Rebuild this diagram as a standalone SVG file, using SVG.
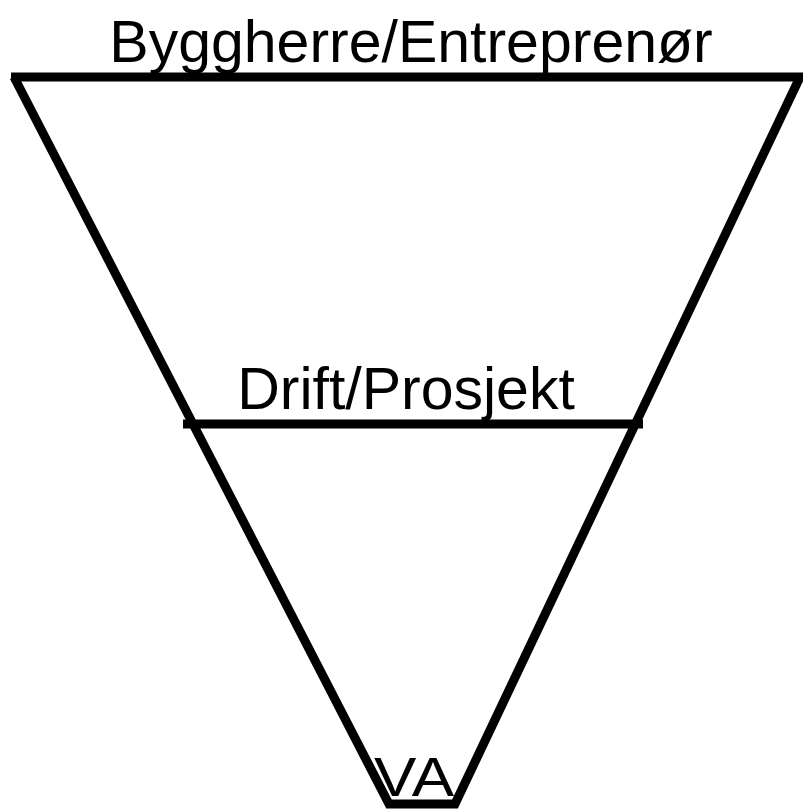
<svg xmlns="http://www.w3.org/2000/svg" width="803" height="809" viewBox="0 0 803 809">
<style>
.ln{stroke:#000;stroke-width:9;fill:none;stroke-linecap:butt;stroke-linejoin:miter}
.t{font-family:"Liberation Sans",Arial,sans-serif;fill:#000;text-anchor:middle}
</style>
<rect width="803" height="809" fill="#fff"/>
<g id="connectors">
<path class="ln" d="M11,77 H803"/>
<path class="ln" d="M14,77 L389,804 H455 L800,77"/>
<path class="ln" d="M183,424 H643"/>
</g>
<g id="node-byggherre"><text class="t" x="411" y="62" font-size="59">Byggherre/Entreprenør</text></g>
<g id="node-drift"><text class="t" x="406" y="409" font-size="59">Drift/Prosjekt</text></g>
<g id="node-va"><text class="t" x="414" y="796" font-size="56" textLength="80" lengthAdjust="spacingAndGlyphs">VA</text></g>
</svg>
